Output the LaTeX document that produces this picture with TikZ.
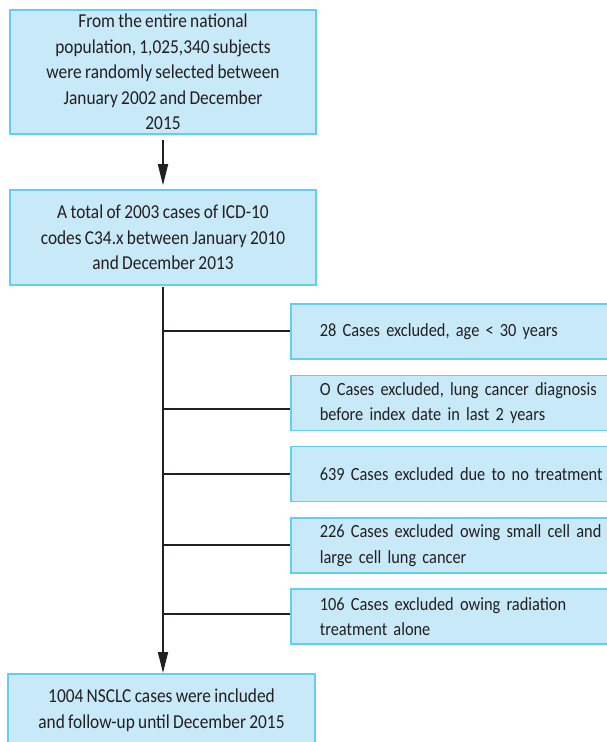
\documentclass[tikz,border=0pt]{standalone}
\usepackage{fontspec}
\setmainfont[FakeStretch=0.88,WordSpace=0.85]{Carlito}
\usetikzlibrary{arrows.meta}
\definecolor{boxfill}{HTML}{C8E9F8}
\definecolor{boxline}{HTML}{62CDF5}
\definecolor{ink}{HTML}{231F20}
\tikzset{
  mainbox/.style={draw=boxline, fill=boxfill, line width=1.6pt, minimum width=306pt,
    align=center, inner sep=0pt, text=ink, font=\fontsize{19.7}{25.5}\selectfont},
  sidebox/.style={draw=boxline, fill=boxfill, line width=1.6pt, anchor=west,
    minimum width=360pt, minimum height=55pt, text width=302pt, inner xsep=28pt, inner ysep=0pt,
    align=left, text=ink, font=\fontsize{18.6}{25.5}\selectfont},
  flow/.style={draw=ink, line width=1.8pt},
  arr/.style={flow, -{Triangle[length=21pt,width=10pt]}}
}
\begin{document}
\begin{tikzpicture}[x=1pt,y=-1pt]
\useasboundingbox (0,0) rectangle (606,742);
\node[mainbox, minimum height=124pt] (b1) at (163,72)
  {From the entire national\\population, 1,025,340 subjects\\were randomly selected between\\January 2002 and December\\2015};
\node[mainbox, minimum height=95pt] (b2) at (163,237.5)
  {A total of 2003 cases of ICD-10\\codes C34.x between January 2010\\and December 2013};
\node[mainbox, minimum height=72pt, minimum width=307pt] (b3) at (161.5,710)
  {1004 NSCLC cases were included\\and follow-up until December 2015};
\node[sidebox] (r1) at (290,331.5) {28 Cases excluded, age < 30 years};
\node[sidebox] (r2) at (290,403) {O Cases excluded, lung cancer diagnosis\\before index date in last 2 years};
\node[sidebox] (r3) at (290,474) {639 Cases excluded due to no treatment};
\node[sidebox] (r4) at (290,545.5) {226 Cases excluded owing small cell and\\large cell lung cancer};
\node[sidebox] (r5) at (290,616.5) {106 Cases excluded owing radiation\\treatment alone};
\coordinate (j1) at (163,331);
\coordinate (j2) at (163,409);
\coordinate (j3) at (163,474);
\coordinate (j4) at (163,545);
\coordinate (j5) at (163,614);
\coordinate (top2) at (163,287);
\coordinate (tip3) at (163,673);
\draw[arr, shorten <=5pt, shorten >=4pt] (b1.south) -- (b2.north);
\draw[arr] (top2) -- (tip3);
\foreach \i in {1,...,5} {\draw[flow] (j\i) -- (j\i -| r\i.west);}
\end{tikzpicture}
\end{document}
